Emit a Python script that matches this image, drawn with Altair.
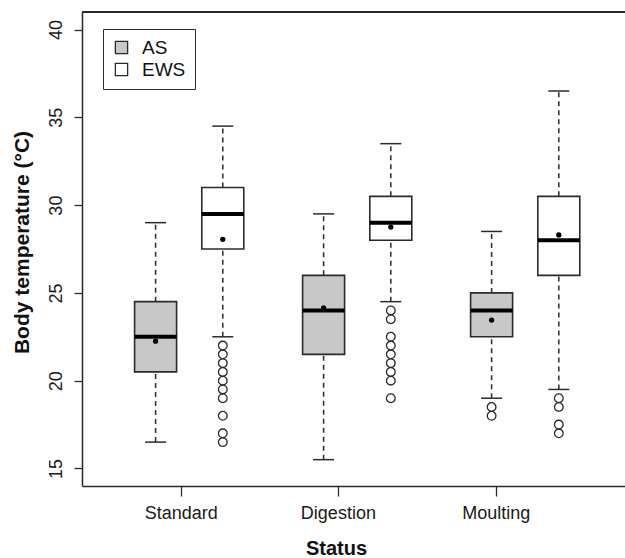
import altair as alt
import pandas as pd

# ---- data ----
box_group = ["Standard", "Standard", "Digestion", "Digestion", "Moulting", "Moulting"]
box_series = ["AS", "EWS", "AS", "EWS", "AS", "EWS"]
box_pos = [1.0, 1.8, 3.0, 3.8, 5.0, 5.8]
whisker_low = [16.5, 22.5, 15.5, 24.5, 19.0, 19.5]
q1 = [20.5, 27.5, 21.5, 28.0, 22.5, 26.0]
median = [22.5, 29.5, 24.0, 29.0, 24.0, 28.0]
q3 = [24.5, 31.0, 26.0, 30.5, 25.0, 30.5]
whisker_high = [29.0, 34.5, 29.5, 33.5, 28.5, 36.5]
means = [22.25, 28.05, 24.15, 28.75, 23.45, 28.3]

out_standard_ews = [22.0, 21.5, 21.0, 20.5, 20.0, 19.5, 19.0, 18.0, 17.0, 16.5]
out_digestion_ews = [24.0, 23.5, 22.5, 22.0, 21.5, 21.0, 20.5, 20.0, 19.0]
out_moulting_as = [18.5, 18.0]
out_moulting_ews = [19.0, 18.5, 17.5, 17.0]

tick_positions = [1.3, 3.17, 5.05]
tick_labels = ["Standard", "Digestion", "Moulting"]

W, H = 543, 474
FONT = "Liberation Sans"
LINE = "#2b2b2b"

boxes = pd.DataFrame({
    "group": box_group, "series": box_series, "pos": box_pos,
    "lo": whisker_low, "q1": q1, "med": median, "q3": q3,
    "hi": whisker_high, "mean": means,
})

whisk = pd.concat([
    pd.DataFrame({"pos": box_pos, "a": q3, "b": whisker_high}),
    pd.DataFrame({"pos": box_pos, "a": whisker_low, "b": q1}),
])
caps = pd.concat([
    pd.DataFrame({"pos": box_pos, "v": whisker_high}),
    pd.DataFrame({"pos": box_pos, "v": whisker_low}),
])

outl = pd.concat([
    pd.DataFrame({"pos": box_pos[1], "v": out_standard_ews}),
    pd.DataFrame({"pos": box_pos[3], "v": out_digestion_ews}),
    pd.DataFrame({"pos": box_pos[4], "v": out_moulting_as}),
    pd.DataFrame({"pos": box_pos[5], "v": out_moulting_ews}),
])

label_expr = ("datum.value < 2 ? '%s' : datum.value < 4 ? '%s' : '%s'"
              % tuple(tick_labels))

xscale = alt.Scale(domain=[0.124, 6.588], nice=False, zero=False)
yscale = alt.Scale(domain=[14, 41], nice=False, zero=False)

x_axis = alt.Axis(values=tick_positions, labelExpr=label_expr, title="Status",
                  grid=False, tickSize=10, tickWidth=1.3, tickColor=LINE,
                  domainColor=LINE, domainWidth=1.5,
                  labelFontSize=18, labelPadding=8, labelColor="#1a1a1a",
                  labelFont=FONT, titleFont=FONT, titleFontSize=20,
                  titleFontWeight="bold", titleX=254, titleY=62,
                  titleBaseline="middle", titleAlign="center", titleColor="#111")
y_axis = alt.Axis(values=[15, 20, 25, 30, 35, 40], title="Body temperature (°C)",
                  grid=False, tickSize=8, tickWidth=1.3, tickColor=LINE,
                  domainColor=LINE, domainWidth=1.5,
                  labelAngle=270, labelAlign="center", labelBaseline="bottom",
                  labelFontSize=18, labelPadding=9, labelColor="#1a1a1a",
                  labelFont=FONT, titleFont=FONT, titleFontSize=21,
                  titleFontWeight="bold", titleAngle=270, titleX=-60, titleY=230,
                  titleBaseline="middle", titleAlign="center", titleColor="#111")

whisker_layer = alt.Chart(whisk).mark_rule(
    color=LINE, strokeWidth=1.5, strokeDash=[5, 4]
).encode(
    x=alt.X("pos:Q", scale=xscale, axis=x_axis),
    y=alt.Y("a:Q", scale=yscale, axis=y_axis),
    y2="b:Q",
)

cap_layer = alt.Chart(caps).mark_rule(color=LINE, strokeWidth=1.5).transform_calculate(
    l="datum.pos - 0.125", r="datum.pos + 0.125"
).encode(
    x=alt.X("l:Q", scale=xscale),
    x2="r:Q",
    y=alt.Y("v:Q", scale=yscale),
)

box_layer = alt.Chart(boxes).mark_rect(stroke=LINE, strokeWidth=1.6).transform_calculate(
    l="datum.pos - 0.25", r="datum.pos + 0.25"
).encode(
    x=alt.X("l:Q", scale=xscale),
    x2="r:Q",
    y=alt.Y("q1:Q", scale=yscale),
    y2="q3:Q",
    fill=alt.Fill("series:N",
                  scale=alt.Scale(domain=["AS", "EWS"], range=["#c8c8c8", "#ffffff"]),
                  legend=alt.Legend(title=None, orient="none", legendX=21, legendY=17,
                                    symbolType="square", symbolSize=150,
                                    symbolStrokeColor=LINE, symbolStrokeWidth=1.3,
                                    labelFontSize=19, labelFont=FONT, labelColor="#111",
                                    labelOffset=11, strokeColor=LINE, fillColor="white",
                                    padding=9, rowPadding=2)),
)

median_layer = alt.Chart(boxes).mark_rule(color="#000", strokeWidth=4).transform_calculate(
    l="datum.pos - 0.25", r="datum.pos + 0.25"
).encode(
    x=alt.X("l:Q", scale=xscale),
    x2="r:Q",
    y=alt.Y("med:Q", scale=yscale),
)

mean_layer = alt.Chart(boxes).mark_point(
    filled=True, color="#000", size=28, opacity=1, shape="circle"
).encode(
    x=alt.X("pos:Q", scale=xscale),
    y=alt.Y("mean:Q", scale=yscale),
)

out_layer = alt.Chart(outl).mark_point(
    shape="circle", filled=False, color=LINE, strokeWidth=1.3, size=75, opacity=1
).encode(
    x=alt.X("pos:Q", scale=xscale),
    y=alt.Y("v:Q", scale=yscale),
)

# top edge of the plot frame (the reference's frame runs off the right edge)
top_edge = alt.Chart(boxes).mark_rule(color=LINE, strokeWidth=1.5).encode(
    x=alt.value(0), x2=alt.value(W), y=alt.value(0)
)

chart = alt.layer(
    whisker_layer, cap_layer, box_layer, median_layer, mean_layer, out_layer, top_edge
).properties(
    width=W, height=H,
    autosize=alt.AutoSizeParams(type="none"),
    padding={"left": 82, "top": 12, "right": 0, "bottom": 72},
    background="white",
).configure_view(stroke=None)

chart.save("out.html", embed_options={"renderer": "svg", "actions": False})
